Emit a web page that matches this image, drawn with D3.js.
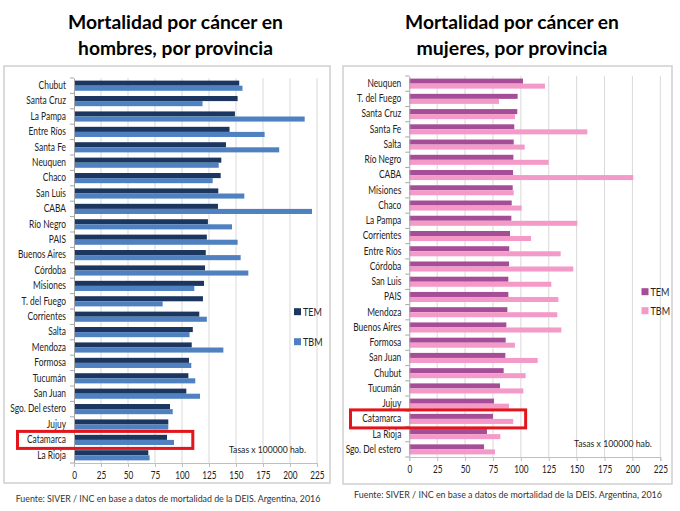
<!DOCTYPE html>
<html><head><meta charset="utf-8">
<script src="https://cdn.jsdelivr.net/npm/d3@7"></script>
<style>
html,body{margin:0;padding:0;background:#fff;}
svg{display:block;}
text{font-family:Lato,"Open Sans",sans-serif;}
</style></head>
<body>
<svg id="c" width="680" height="511"></svg>
<script>
// ---------- DATA ----------
const menCategories = ["Chubut","Santa Cruz","La Pampa","Entre Ríos","Santa Fe","Neuquen","Chaco","San Luis","CABA","Río Negro","PAIS","Buenos Aires","Córdoba","Misiones","T. del Fuego","Corrientes","Salta","Mendoza","Formosa","Tucumán","San Juan","Sgo. Del estero","Jujuy","Catamarca","La Rioja"];
const menTEM = [153,151.5,149,144,140.7,136.4,135.8,133.6,133.3,124,123,122,121.3,120.4,119.4,116,110,109,106.5,105.9,104,88.9,87.3,86.1,68.8];
const menTBM = [156,119,213.6,176.5,190,134,128.4,157.7,220.4,146.3,151.5,154.3,161.4,111.4,82.1,123,107,138.3,108.6,112.3,116.7,91.4,87.3,92.6,70];

const womenCategories = ["Neuquen","T. del Fuego","Santa Cruz","Santa Fe","Salta","Río Negro","CABA","Misiones","Chaco","La Pampa","Corrientes","Entre Ríos","Córdoba","San Luis","PAIS","Mendoza","Buenos Aires","Formosa","San Juan","Chubut","Tucumán","Jujuy","Catamarca","La Rioja","Sgo. Del estero"];
const womenTEM = [101.9,97.1,96.8,94.1,93.6,93.3,93,92.7,91.8,91.5,90.3,89.6,89.4,88.8,88.8,87.9,87,86.4,86.1,84.6,81.3,75.9,75,69.6,67];
const womenTBM = [121.6,80.4,94.7,159.6,103.4,124.9,200.8,93.6,100.7,150.6,109.1,135.7,147,127.3,133.6,132.7,136.3,94.7,115.1,104.3,102.2,89.4,93.2,81.6,76.8];

const tickValues = [0,25,50,75,100,125,150,175,200,225];
const seriesNames = ["TEM","TBM"];
const titlesMen = ["Mortalidad por cáncer en","hombres, por provincia"];
const titlesWomen = ["Mortalidad por cáncer en","mujeres, por provincia"];
const unitsLabel = "Tasas x 100000 hab.";
const sourceLabel = "Fuente: SIVER / INC en base a datos de mortalidad de la DEIS. Argentina, 2016";
const highlighted = "Catamarca";

// ---------- DRAW ----------
const svg = d3.select("#c");

function fitText(sel, target){
  const n = sel.node();
  const fs = parseFloat(sel.attr("font-size"));
  const w = n.getComputedTextLength();
  sel.attr("font-size", (fs*target/w).toFixed(2));
}
function compress(sel, factor){
  sel.each(function(){
    const w = this.getComputedTextLength();
    d3.select(this).attr("textLength",(w*factor).toFixed(2)).attr("lengthAdjust","spacingAndGlyphs");
  });
}

function panel(cfg){
  const g = svg.append("g");
  // titles
  cfg.titles.forEach((t,i)=>{
    const tt = g.append("text").attr("x",cfg.titleX).attr("y",cfg.titleY[i])
      .attr("text-anchor","middle").attr("font-weight","bold").attr("font-size",20)
      .attr("fill","#000").text(t);
    fitText(tt, cfg.titleW[i]);
  });
  // frame
  g.append("rect").attr("x",cfg.box[0]).attr("y",cfg.box[1]).attr("width",cfg.box[2]).attr("height",cfg.box[3])
    .attr("fill","#fff").attr("stroke","#cfcfcf").attr("stroke-width",1.5);

  const x = d3.scaleLinear().domain([0,225]).range([cfg.x0,cfg.x1]);
  const y = d3.scaleBand().domain(cfg.cats).range([cfg.y0,cfg.y1]).paddingInner(0.34).paddingOuter(0.17);
  const sub = d3.scaleBand().domain(seriesNames).range([0,y.bandwidth()]);

  // grid
  g.append("g").selectAll("line").data(tickValues.slice(1)).join("line")
    .attr("x1",d=>x(d)).attr("x2",d=>x(d)).attr("y1",cfg.y0).attr("y2",cfg.y1)
    .attr("stroke","#d9d9d9").attr("stroke-width",1);

  // bars
  const data = cfg.cats.map((c,i)=>({c, v:[cfg.tem[i],cfg.tbm[i]]}));
  const rows = g.append("g").selectAll("g").data(data).join("g")
    .attr("transform",d=>`translate(0,${y(d.c)})`);
  rows.selectAll("rect").data(d=>d.v.map((v,k)=>({k,v}))).join("rect")
    .attr("x",x(0)).attr("y",d=>sub(seriesNames[d.k]))
    .attr("width",d=>x(d.v)-x(0)).attr("height",sub.bandwidth())
    .attr("fill",d=>cfg.colors[d.k]);

  // y axis
  const ya = g.append("g").attr("transform",`translate(${x(0)},0)`)
    .call(d3.axisLeft(y).tickSize(0).tickPadding(8));
  ya.select(".domain").attr("stroke","#a6a6a6");
  ya.selectAll("text").attr("font-size",10.5).attr("fill","#222").attr("font-family","Lato, sans-serif");
  compress(ya.selectAll("text"), 0.8);
  // band boundary ticks
  const bounds = cfg.cats.map(c=>y(c)-y.step()*y.paddingInner()/2).concat([cfg.y1]);
  g.append("g").selectAll("line").data(bounds).join("line")
    .attr("x1",x(0)-4).attr("x2",x(0)).attr("y1",d=>d).attr("y2",d=>d)
    .attr("stroke","#a6a6a6");

  // x axis
  const xa = g.append("g").attr("transform",`translate(0,${cfg.y1})`)
    .call(d3.axisBottom(x).tickValues(tickValues).tickSize(4).tickPadding(5));
  xa.select(".domain").attr("stroke","#bfbfbf");
  xa.selectAll(".tick line").attr("stroke","#bfbfbf");
  xa.selectAll("text").attr("font-size",10.5).attr("fill","#222").attr("font-family","Lato, sans-serif");
  compress(xa.selectAll("text"), 0.78);

  // legend
  seriesNames.forEach((s,k)=>{
    g.append("rect").attr("x",cfg.legX).attr("y",cfg.legY[k]-3.5).attr("width",7).attr("height",7).attr("fill",cfg.colors[k]);
    const lt = g.append("text").attr("x",cfg.legX+9).attr("y",cfg.legY[k]+4).attr("font-size",11).attr("fill","#222").text(s);
    compress(lt, 0.82);
  });

  // units label
  const ut = g.append("text").attr("x",cfg.unitsX).attr("y",cfg.unitsY).attr("font-size",11).attr("fill","#222").text(unitsLabel);
  fitText(ut, cfg.unitsW);

  // highlight box
  const hy = y(highlighted) + y.bandwidth()/2;
  g.append("rect").attr("x",cfg.hlX).attr("y",hy-cfg.hlH/2).attr("width",x(cfg.hlV)-cfg.hlX).attr("height",cfg.hlH)
    .attr("fill","none").attr("stroke","#e3141b").attr("stroke-width",3);

  // source
  const st = g.append("text").attr("x",cfg.srcX).attr("y",cfg.srcY).attr("text-anchor","middle")
    .attr("font-size",12).attr("fill","#333").text(sourceLabel);
  fitText(st, cfg.srcW);
}

panel({
  titles:titlesMen, titleX:175.5, titleY:[29,55], titleW:[215,195],
  box:[4,66,326,417],
  x0:74, x1:317, y0:78, y1:463,
  cats:menCategories, tem:menTEM, tbm:menTBM,
  colors:["#1b365f","#4f81c0"],
  legX:294, legY:[311.7,341.7],
  unitsX:229, unitsY:453, unitsW:77,
  hlX:17.5, hlV:110, hlH:17,
  srcX:168, srcY:502, srcW:305
});

panel({
  titles:titlesWomen, titleX:512, titleY:[29,55], titleW:[214,191],
  box:[343,66,329,418],
  x0:409.3, x1:660.3, y0:76, y1:457,
  cats:womenCategories, tem:womenTEM, tbm:womenTBM,
  colors:["#a64d98","#f49ac9"],
  legX:641.5, legY:[291.7,310.7],
  unitsX:574, unitsY:446.5, unitsW:78,
  hlX:350.5, hlV:104.3, hlH:18,
  srcX:508, srcY:498, srcW:308
});
</script>
</body></html>
